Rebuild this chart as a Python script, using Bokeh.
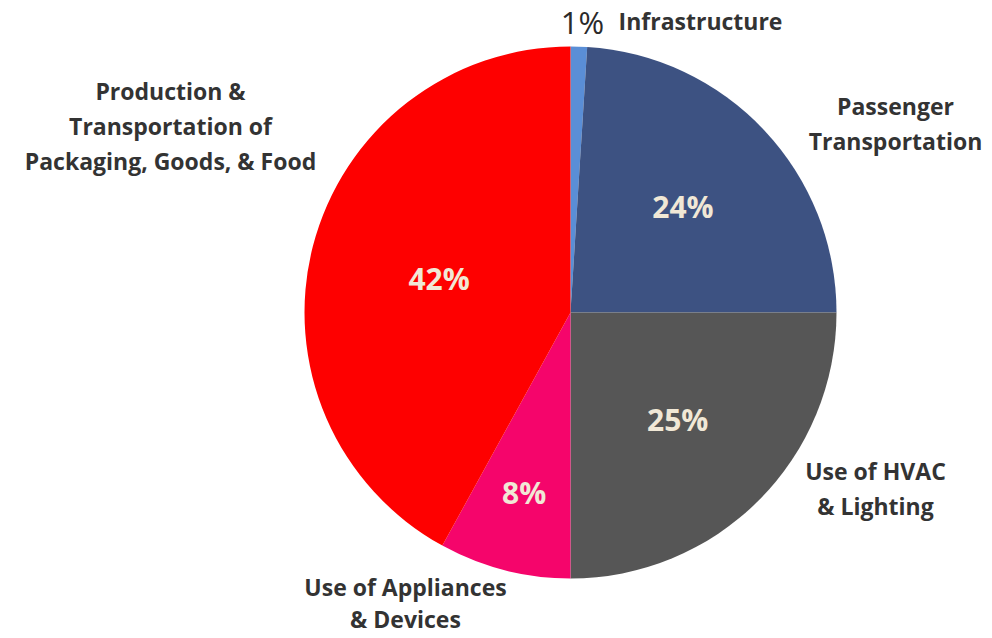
import math
from bokeh.plotting import figure
from bokeh.models import ColumnDataSource, Range1d
from bokeh.core.properties import value
from bokeh.embed import file_html
from bokeh.resources import INLINE

categories = ["Infrastructure", "Passenger Transportation", "Use of HVAC & Lighting",
              "Use of Appliances & Devices", "Production & Transportation of Packaging, Goods, & Food"]
shares = [1, 24, 25, 8, 42]
pct_labels = ["1%", "24%", "25%", "8%", "42%"]
colors = ["#5a8ed6", "#3d5282", "#565656", "#f5056b", "#fe0000"]
label_lines = [["Infrastructure"], ["Passenger", "Transportation"], ["Use of HVAC", "& Lighting"],
               ["Use of Appliances", "& Devices"],
               ["Production &", "Transportation of", "Packaging, Goods, & Food"]]

W, H = 992, 638
CX, CY, R = 570, H - 312, 266
FONT = "Open Sans"

total = float(sum(shares))
starts, ends, mids = [], [], []
cum = 0.0
for s in shares:
    a0 = math.pi / 2 - 2 * math.pi * cum / total
    cum += s
    a1 = math.pi / 2 - 2 * math.pi * cum / total
    starts.append(a0); ends.append(a1); mids.append((a0 + a1) / 2)

p = figure(width=W, height=H, output_backend="svg", toolbar_location=None,
           x_range=Range1d(0, W), y_range=Range1d(0, H), min_border=0,
           outline_line_color=None, background_fill_color="white")
p.axis.visible = False
p.grid.visible = False

src = ColumnDataSource(dict(start=starts, end=ends, color=colors, cat=categories))
p.wedge(x=CX, y=CY, radius=R, start_angle="start", end_angle="end", direction="clock",
        fill_color="color", line_color=None, source=src)

# inside percentage labels (skip the tiny slice, labelled outside)
rad_frac = [None, 0.58, 0.57, 0.70, 0.51]
ix, iy, it = [], [], []
for i in range(1, len(shares)):
    ix.append(CX + R * rad_frac[i] * math.cos(mids[i]))
    iy.append(CY + R * rad_frac[i] * math.sin(mids[i]))
    it.append(pct_labels[i])
p.text(x=ix, y=iy, text=it, text_font=value(FONT), text_font_style="bold",
       text_font_size="30px", text_color="#f1e8d6", text_align="center", text_baseline="middle")

# small slice label
p.text(x=[582], y=[H - 21], text=[pct_labels[0]], text_font=value(FONT),
       text_font_size="31px", text_color="#2a2a2a", text_align="center", text_baseline="middle")

# category labels: anchor = centre of first line (pixels from top), line spacing in px
anchor_x = [700, 895, 875, 405, 170]
anchor_y = [20, 105, 470, 586, 90]
spacing = [35, 35, 35, 32, 35]
tx, ty, tt = [], [], []
for lines, ax, ay, ls in zip(label_lines, anchor_x, anchor_y, spacing):
    for k, ln in enumerate(lines):
        tx.append(ax); ty.append(H - (ay + k * ls)); tt.append(ln)
p.text(x=tx, y=ty, text=tt, text_font=value(FONT), text_font_style="bold",
       text_font_size="23px", text_color="#333333", text_align="center", text_baseline="middle")

open("out.html", "w").write(file_html(p, INLINE))
